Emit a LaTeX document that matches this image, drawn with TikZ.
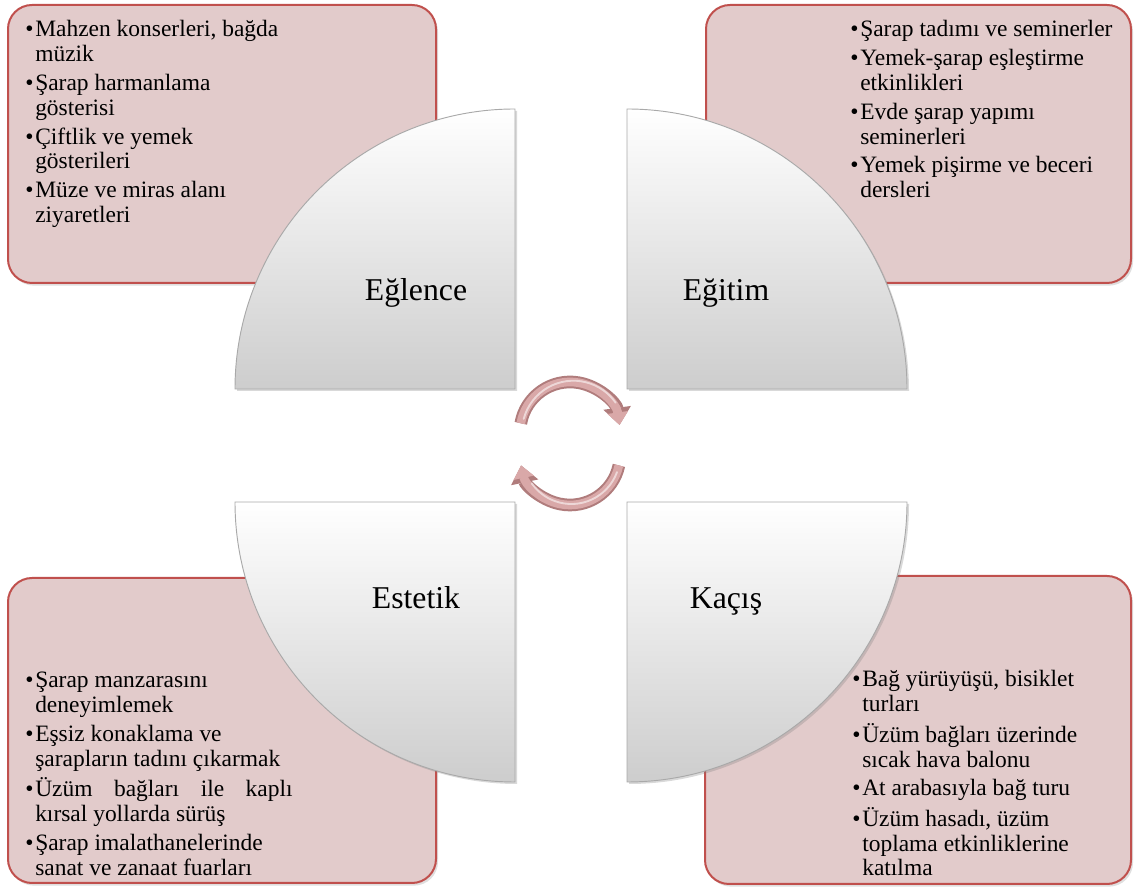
\documentclass[tikz,border=0pt]{standalone}
\usepackage{fontspec}
\setmainfont{Liberation Serif}
\usepackage{xcolor}
\usepackage{tikz}
\usetikzlibrary{arrows.meta,positioning,shadows}
\definecolor{cardfill}{HTML}{E2CBCB}
\definecolor{cardline}{HTML}{C0504D}
\definecolor{qgray}{HTML}{CDCDCD}
\definecolor{qline}{HTML}{A9A9A9}
\definecolor{cycpink}{HTML}{D9A8A8}
\definecolor{cycpinkd}{HTML}{B07C7C}
\tikzset{
  % pastel card with the red accent stroke
  card/.style  = {draw=cardline, fill=cardfill, line width=1.5pt, rounded corners=18pt,
                  drop shadow={opacity=0.25, shadow xshift=1.5pt, shadow yshift=-2pt}},
  quart/.style = {draw=qline, line width=0.7pt, top color=white, bottom color=qgray,
                  drop shadow={opacity=0.3, shadow xshift=1.5pt, shadow yshift=-1.5pt}},
  lst/.style   = {inner sep=0pt, anchor=base west, align=left,
                  font=\fontsize{17.6}{18.6}\selectfont},
  ttl/.style   = {inner sep=0pt, anchor=base, font=\fontsize{23.8}{26}\selectfont},
  cyc edge/.style = {line width=9.5pt, cycpinkd, -{Triangle[width=20pt,length=13pt]}},
  cyc/.style   = {line width=6.5pt, cycpink, -{Triangle[width=15pt,length=9.5pt]}},
  cyc glint/.style = {line width=1.4pt, white, opacity=0.55, line cap=round},
}
\newcommand{\itm}{\makebox[7.5pt][l]{\textbullet}}

\begin{document}
\begin{tikzpicture}[x=0.75pt,y=0.75pt]
\useasboundingbox (0,0) rectangle (1134,891);
% --- the four cards ----------------------------------------------------
\draw[card] (8,608)   rectangle (436,886);
\draw[card] (706,608) rectangle (1131,886);
\draw[card] (8,8)     rectangle (436,313);
\draw[card] (705,7)   rectangle (1131,315);
% --- the four quarter discs --------------------------------------------
\draw[quart] (515,502) -- (235,502) arc[start angle=180, end angle=90,  radius=280] -- cycle;
\draw[quart] (627,502) -- (627,782) arc[start angle=90,  end angle=0,   radius=280] -- cycle;
\draw[quart] (515,389) -- (515,109) arc[start angle=270, end angle=180, radius=280] -- cycle;
\draw[quart] (627,389) -- (907,389) arc[start angle=0,   end angle=-90, radius=280] -- cycle;
% --- titles ------------------------------------------------------------
\node[ttl] (egl) at (416,590) {Eğlence};
\node[ttl] (egt) at (726,590) {Eğitim};
\node[ttl] (est) at (416,282) {Estetik};
\node[ttl] (kac) at (726,282) {Kaçış};
% --- cycle arrows in the middle ----------------------------------------
\coordinate (cyc-a) at (520.8,467.7);
\coordinate (cyc-b) at (618.9,425.6);
\coordinate (glint-a) at (523.7,472.1);
\coordinate (glint-b) at (617.0,418.9);
\draw[cyc edge] (cyc-a) arc[start angle=170, end angle=8,    radius=50];
\draw[cyc]      (cyc-a) arc[start angle=170, end angle=8,    radius=50];
\draw[cyc glint] (glint-a) arc[start angle=165, end angle=35, radius=51.5];
\draw[cyc edge] (cyc-b) arc[start angle=-12, end angle=-168, radius=50];
\draw[cyc]      (cyc-b) arc[start angle=-12, end angle=-168, radius=50];
\draw[cyc glint] (glint-b) arc[start angle=-20, end angle=-145, radius=48.5];
% --- lists -------------------------------------------------------------
\node[lst] (egl-list) at (25,854) {\begin{tabular}[t]{@{}l@{}l@{}}
  \itm & Mahzen konserleri, bağda\\ & müzik\\[3pt]
  \itm & Şarap harmanlama\\ & gösterisi\\[3pt]
  \itm & Çiftlik ve yemek\\ & gösterileri\\[3pt]
  \itm & Müze ve miras alanı\\ & ziyaretleri
\end{tabular}};
\node[lst] (egt-list) at (850,854) {\begin{tabular}[t]{@{}l@{}l@{}}
  \itm & Şarap tadımı ve seminerler\\[3pt]
  \itm & Yemek-şarap eşleştirme\\ & etkinlikleri\\[3pt]
  \itm & Evde şarap yapımı\\ & seminerleri\\[3pt]
  \itm & Yemek pişirme ve beceri\\ & dersleri
\end{tabular}};
\node[lst] (est-list) at (25,203) {\begin{tabular}[t]{@{}l@{}l@{}}
  \itm & Şarap manzarasını\\ & deneyimlemek\\[3pt]
  \itm & Eşsiz konaklama ve\\ & şarapların tadını çıkarmak\\[3pt]
  \itm & \makebox[193pt][s]{Üzüm bağları ile kaplı}\\ & kırsal yollarda sürüş\\[3pt]
  \itm & Şarap imalathanelerinde\\ & sanat ve zanaat fuarları
\end{tabular}};
\node[lst] (kac-list) at (852,204) {\begin{tabular}[t]{@{}l@{}l@{}}
  \itm & Bağ yürüyüşü, bisiklet\\ & turları\\[3pt]
  \itm & Üzüm bağları üzerinde\\ & sıcak hava balonu\\[3pt]
  \itm & At arabasıyla bağ turu\\[3pt]
  \itm & Üzüm hasadı, üzüm\\ & toplama etkinliklerine\\ & katılma
\end{tabular}};
\end{tikzpicture}
\end{document}
